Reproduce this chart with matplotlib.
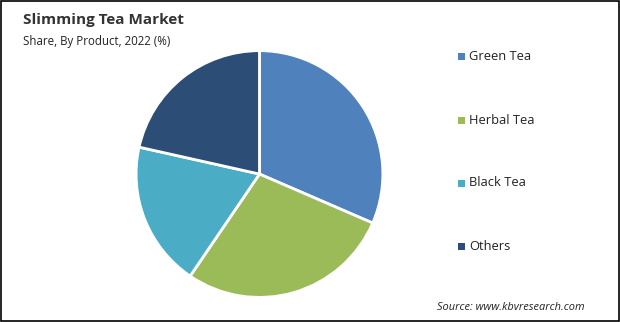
import matplotlib.pyplot as plt
from matplotlib.patches import Rectangle

# Slimming tea market share by product, 2022 (%)
products = ['Green Tea', 'Herbal Tea', 'Black Tea', 'Others']
shares = [31.5, 28.0, 19.0, 21.5]
colors = ['#4F81BD', '#9BBB59', '#4BACC6', '#2C4D75']

plt.rcParams['font.family'] = ['Open Sans', 'DejaVu Sans']

fig = plt.figure(figsize=(6.2, 3.22), dpi=100)

# pie axes, placed so the circle sits left of centre
ax = fig.add_axes([0.2195, 0.0760, 0.398, 0.767])
ax.pie(shares, colors=colors, startangle=90, counterclock=False,
       radius=1.0, wedgeprops=dict(edgecolor='white', linewidth=2))
ax.set_xlim(-1.0, 1.0)
ax.set_ylim(-1.0, 1.0)
ax.set_aspect('equal')
ax.axis('off')

# legend drawn by hand, one entry per row
legend_y = [56, 120, 183, 246]
for name, col, y in zip(products, colors, legend_y):
    fy = 1 - y / 322
    fig.patches.append(Rectangle((458 / 620, fy - 3.5 / 322), 7 / 620, 7 / 322,
                                 transform=fig.transFigure, facecolor=col,
                                 edgecolor='none'))
    fig.text(469 / 620, fy, name, fontsize=9.3, va='center', ha='left',
             color='#222222')

fig.text(23 / 620, 1 - 20 / 322, 'Slimming Tea Market', fontsize=11,
         fontweight='bold', va='center', ha='left', color='#333333')
fig.text(23 / 620, 1 - 41 / 322, 'Share, By Product, 2022 (%)', fontsize=8.3,
         va='center', ha='left', color='#222222')
fig.text(437 / 620, 1 - 308 / 322, 'Source: www.kbvresearch.com', fontsize=7.9,
         style='italic', va='center', ha='left', color='#222222')

# thin black frame round the whole picture
fig.patches.append(Rectangle((0.001, 0.002), 0.997, 0.995, transform=fig.transFigure,
                             fill=False, edgecolor='black', linewidth=1.2))

fig.savefig('out.png', dpi=100)
